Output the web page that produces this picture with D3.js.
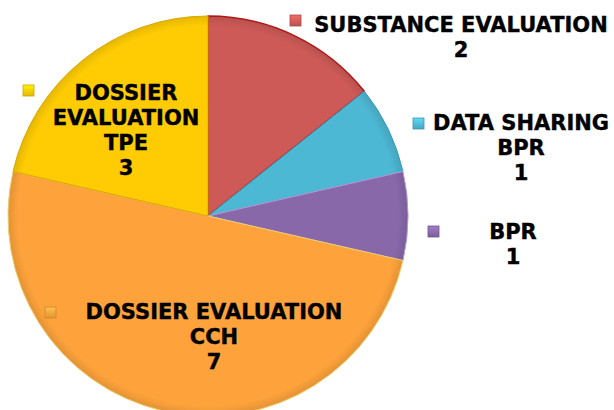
<!DOCTYPE html>
<html><head><meta charset="utf-8">
<script src="https://cdn.jsdelivr.net/npm/d3@7"></script>
<style>html,body{margin:0;padding:0;background:#fff;}</style>
</head><body>
<svg id="c" width="614" height="410"></svg>
<script>
const categories = ["SUBSTANCE EVALUATION", "DATA SHARING BPR", "BPR", "DOSSIER EVALUATION CCH", "DOSSIER EVALUATION TPE"];
const values = [2, 1, 1, 7, 3];
const labelLines = [["SUBSTANCE EVALUATION"], ["DATA SHARING", "BPR"], ["BPR"], ["DOSSIER EVALUATION", "CCH"], ["DOSSIER", "EVALUATION", "TPE"]];
const colors = ["#CD5A57", "#4DB8D4", "#8868A9", "#FEA33B", "#FFCC03"];
const strokes = ["#B01818", "#3A9AB5", "#B99AD8", "#E8D070", "#D7A800"];

const svg = d3.select("#c");
const cx = 208, cy = 216, r = 200;
const defs = svg.append("defs");
colors.forEach((c, i) => {
  const g = defs.append("radialGradient").attr("id", "g" + i)
    .attr("gradientUnits", "userSpaceOnUse").attr("cx", 0).attr("cy", 0).attr("r", r);
  g.append("stop").attr("offset", "0%").attr("stop-color", c);
  g.append("stop").attr("offset", "95%").attr("stop-color", c);
  g.append("stop").attr("offset", "100%").attr("stop-color", d3.color(c).darker(0.3));
  const m = defs.append("linearGradient").attr("id", "m" + i).attr("x1", 0).attr("y1", 0).attr("x2", 0).attr("y2", 1);
  m.append("stop").attr("offset", "0%").attr("stop-color", d3.color(c).brighter(0.5));
  m.append("stop").attr("offset", "100%").attr("stop-color", d3.color(c).darker(0.3));
});

const pie = d3.pie().sort(null).value(d => d)(values);
const arc = d3.arc().innerRadius(0).outerRadius(r);
const g = svg.append("g").attr("transform", `translate(${cx},${cy})`);
g.selectAll("path").data(pie).join("path")
  .attr("d", arc)
  .attr("fill", (d, i) => `url(#g${i})`)
  .attr("stroke", (d, i) => strokes[i])
  .attr("stroke-width", (d, i) => i === 0 ? 1.5 : 1)
  .attr("stroke-linejoin", "round");

// label placement: [center x, first baseline y, marker x, marker y]
const labelPos = [
  [461, 32, 290, 15],
  [521, 130, 413, 118],
  [513, 239, 428, 226],
  [214, 319, 45, 307],
  [126, 100, 23, 85]
];
const lh = 25;
labelPos.forEach((p, i) => {
  const lines = labelLines[i].concat([String(values[i])]);
  const t = svg.append("text")
    .attr("text-anchor", "middle")
    .attr("font-family", "DejaVu Sans, Verdana, sans-serif")
    .attr("font-weight", "bold")
    .attr("font-size", 21)
    .attr("fill", "#000")
    .attr("stroke", "#000").attr("stroke-width", 0.4);
  lines.forEach((l, j) => {
    t.append("tspan").attr("x", p[0]).attr("y", p[1] + j * lh).text(l);
  });
  svg.append("rect").attr("x", p[2]).attr("y", p[3]).attr("width", 11).attr("height", 11)
    .attr("fill", `url(#m${i})`).attr("stroke", d3.color(colors[i]).darker(0.6)).attr("stroke-width", 0.8);
});
</script>
</body></html>
